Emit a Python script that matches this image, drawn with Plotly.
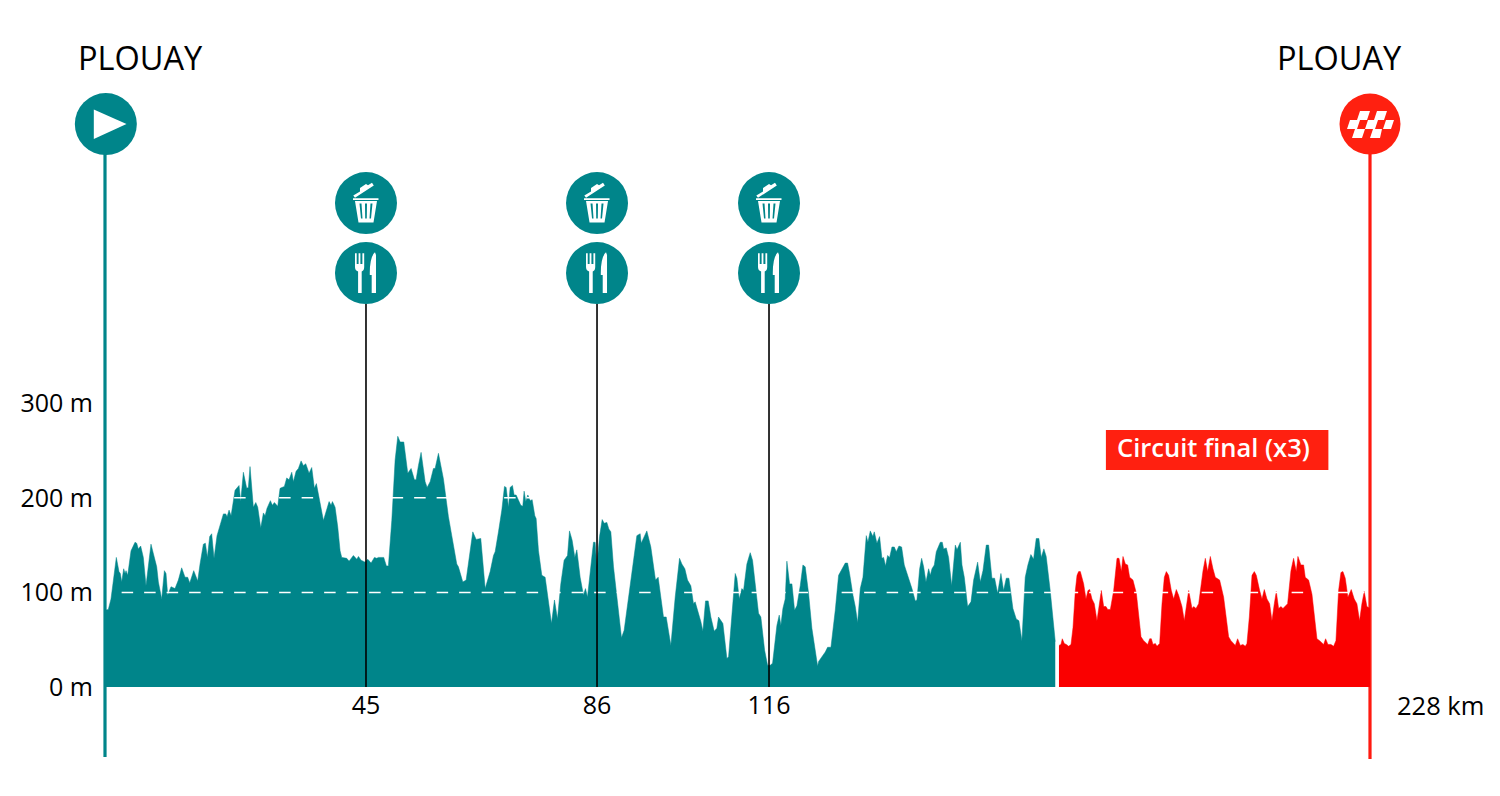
import plotly.graph_objects as go

km_teal = [0,0.60,1.08,1.50,2.04,2.52,2.76,3.01,3.37,3.61,3.79,4.09,4.69,5.41,5.71,6.01,6.43,6.91,7.39,8.29,9.32,9.62,10.22,10.70,11.00,11.30,11.90,12.62,13.22,13.82,14.42,14.90,15.27,15.99,16.71,17.13,17.73,18.09,18.45,18.87,19.23,19.65,20.19,21.34,21.76,22.00,22.36,22.72,23.44,24.16,24.46,24.94,25.54,25.84,26.14,26.74,27.17,27.53,28.07,28.55,28.85,29.21,29.81,30.17,30.53,31.13,31.55,32.33,32.75,33.17,33.66,33.96,34.44,34.86,35.34,35.76,36.18,36.78,37.26,37.74,38.10,39.37,39.97,40.39,40.75,40.99,41.47,41.95,42.37,42.67,43.57,43.99,44.77,45.38,45.68,46.16,46.88,47.36,47.96,48.56,48.98,49.28,50.24,50.72,51.08,51.69,52.29,52.77,53.19,53.85,54.57,55.17,55.77,56.07,56.49,56.97,57.70,58.06,
58.60,59.20,59.50,60.10,61.00,61.90,62.50,63.40,63.70,64.49,65.09,65.69,66.29,66.89,67.73,68.52,69.42,70.02,70.32,70.92,71.52,72.00,72.30,72.72,73.02,73.44,73.74,74.10,74.94,75.30,75.54,75.84,76.21,76.63,76.99,77.47,77.71,78.13,78.73,79.33,79.93,80.47,81.01,81.55,82.15,82.75,83.36,83.72,84.20,84.68,85.04,85.64,86.24,86.60,86.96,87.44,88.04,88.34,88.64,89.13,89.61,89.97,90.45,90.81,91.17,91.65,92.25,93.09,93.57,94.35,94.89,95.38,95.86,96.46,96.64,97.06,97.66,98.38,98.86,99.22,99.70,100.18,100.66,101.15,101.99,102.77,103.55,103.97,104.51,104.99,105.59,106.07,106.37,107.40,107.76,108.24,108.72,109.20,109.80,110.28,110.58,111.37,112.09,112.39,112.99,113.59,113.89,114.31,114.79,115.09,115.69,116.29,116.71,117.19,117.79,118.21,118.88,119.42,
119.90,120.32,120.80,121.10,121.52,121.82,122.18,122.60,122.90,123.39,123.81,124.29,124.71,125.31,125.79,126.21,126.81,127.41,128.44,128.62,129.82,130.24,130.84,131.62,132.22,132.82,133.42,133.84,134.20,134.81,135.23,135.65,136.13,136.61,137.21,137.51,137.93,138.41,138.65,139.13,139.61,140.03,140.33,140.69,141.05,141.42,141.84,142.26,142.62,143.10,143.58,144.06,144.84,145.44,146.04,146.34,146.83,147.19,147.55,147.97,148.45,148.75,149.05,149.47,149.83,150.55,150.91,151.15,151.63,152.05,152.60,153.26,153.56,154.16,154.46,154.88,155.48,156.08,156.56,157.28,157.76,158.24,158.84,159.26,159.86,160.34,160.88,161.48,161.96,162.44,162.92,163.64,164.24,164.72,165.26,165.86,166.34,166.88,167.36,167.84,168.32,168.74,169.22,169.64,170.36,170.97,171.27]
elev_teal = [81,82,93,113,137,122,120,111,125,120,123,118,144,153,152,146,149,137,107,151,127,111,93,123,120,97,106,104,113,126,116,116,110,123,112,130,151,152,137,159,162,136,160,183,183,180,187,181,208,213,196,227,210,211,233,190,195,190,168,184,181,189,197,192,195,191,210,212,221,219,227,217,228,231,239,234,236,226,232,210,215,176,189,196,192,196,190,169,144,137,136,133,139,135,138,134,132,135,131,137,136,137,137,128,128,176,240,265,259,259,226,231,219,219,234,248,217,211,
217,231,231,247,220,180,160,130,127,111,113,139,164,156,157,104,122,139,143,164,187,212,211,190,211,213,203,203,192,191,207,196,203,197,198,181,178,144,118,116,90,67,92,72,109,134,139,165,155,137,145,116,97,104,95,123,153,153,127,159,177,173,174,167,164,127,95,52,60,92,116,139,160,162,152,158,165,148,125,113,116,93,74,74,44,95,136,130,125,113,107,88,90,69,59,91,91,74,59,62,74,67,30,32,81,120,115,93,104,102,130,142,134,109,78,74,39,23,
23,25,46,65,76,65,83,93,133,109,109,81,86,107,129,127,99,62,22,27,37,42,42,81,118,125,131,131,120,97,85,68,104,116,160,153,165,159,164,152,159,136,137,128,139,137,148,148,143,149,148,129,116,104,91,92,125,136,127,111,125,118,125,129,143,153,153,146,147,137,107,150,145,153,129,116,85,90,113,132,111,123,150,150,115,115,99,120,102,115,115,83,72,70,49,116,129,140,135,157,157,137,146,138,102,60,48]

km_red = [171.94,172.30,172.54,172.90,173.27,173.69,174.11,174.47,174.89,175.19,175.49,175.79,176.39,176.81,177.17,177.47,177.89,178.31,178.79,179.21,179.57,180.00,180.42,180.72,181.20,181.80,182.40,182.76,183.18,183.48,183.90,184.32,184.68,185.28,185.89,186.73,187.21,187.93,188.29,188.59,188.89,189.31,189.61,190.09,190.51,190.93,191.29,191.71,192.19,192.61,193.09,193.51,194.11,194.53,194.90,195.32,195.92,196.22,196.64,197.12,197.90,198.32,198.74,199.22,199.70,200.12,200.90,201.62,202.52,202.94,203.72,204.14,204.62,205.10,205.52,205.82,206.25,206.73,207.15,207.51,208.11,208.53,208.95,209.43,209.91,210.33,210.75,211.11,211.53,211.95,212.31,212.73,213.15,213.75,214.23,214.71,215.01,215.55,216.03,216.33,216.94,217.54,218.44,218.92,219.64,220.00,220.42,220.96,221.44,221.86,222.34,222.76,223.12,223.54,224.02,224.62,225.16,225.64,226.12,226.54,226.96,227.44,227.92,228]
elev_red = [44,45,51,46,45,43,45,63,102,118,122,122,109,93,102,103,93,88,70,89,102,85,85,82,82,102,136,136,122,138,130,129,116,113,99,53,49,45,51,51,45,46,43,46,88,116,122,118,102,93,103,97,85,70,88,102,83,85,83,88,123,136,122,138,125,116,113,95,53,49,44,51,44,45,43,46,74,118,122,118,102,93,103,93,88,70,88,101,83,85,83,85,88,123,136,122,138,129,129,116,113,98,51,49,45,51,45,45,43,49,102,121,122,115,95,103,93,88,70,88,101,85,83,83]

elev_ticks = [0, 100, 200, 300]
elev_labels = ["0 m", "100 m", "200 m", "300 m"]
feed_pos = [47.04, 88.68, 119.68]
feed_labels = ["45", "86", "116"]
place_start = "PLOUAY"
place_end = "PLOUAY"
total_label = "228 km"
circuit_label = "Circuit final (x3)"

TEAL = "#00858a"
RED_FILL = "#fa0000"
RED_MARK = "#ff2010"
RED_LINE = "#ff1a10"

fig = go.Figure()
fig.add_trace(go.Scatter(x=km_teal, y=elev_teal, mode="lines", fill="tozeroy",
                         fillcolor=TEAL, line=dict(width=0.5, color=TEAL), hoverinfo="skip"))
fig.add_trace(go.Scatter(x=km_red, y=elev_red, mode="lines", fill="tozeroy",
                         fillcolor=RED_FILL, line=dict(width=0.5, color=RED_FILL), hoverinfo="skip"))

for level in (100, 200):
    fig.add_trace(go.Scatter(x=[3.0, 227.0], y=[level, level], mode="lines",
                             line=dict(color="white", width=1.5, dash="11.5px,11px"), hoverinfo="skip"))

for p in feed_pos:
    fig.add_trace(go.Scatter(x=[p, p], y=[0, 405], mode="lines",
                             line=dict(color="black", width=1.6), hoverinfo="skip"))

fig.add_trace(go.Scatter(x=[0.15] + feed_pos + feed_pos,
                         y=[595, 511.6, 511.6, 511.6, 437.6, 437.6, 437.6],
                         mode="markers", cliponaxis=False,
                         marker=dict(size=62, color=TEAL, line=dict(width=0)), hoverinfo="skip"))
fig.add_trace(go.Scatter(x=[228], y=[595], mode="markers", cliponaxis=False,
                         marker=dict(size=61, color=RED_MARK, line=dict(width=0)), hoverinfo="skip"))


def icon(path, x, y, color="white", xref="x"):
    return dict(type="path", path=path, xref=xref, yref="y", xsizemode="pixel", ysizemode="pixel",
                xanchor=x, yanchor=y, fillcolor=color, line=dict(width=0), layer="above")


PLAY = "M-12.7,14.7 L20,0 L-12.7,-15 Z"
TRASH = ("M-13,4.7 L12.5,4.7 L12.5,3 L-13,3 Z "
         "M-11,2 L11,2 L7.5,-19.5 L-7.5,-19.5 Z "
         "M-12.7,7.5 L-11,5.3 L7.8,17.5 L6,20.3 L2,17.8 L0,19 L-6,15 L-6,11.5 Z")
TRASH_SLOTS = ("M-6.5,-0.5 L-4.5,-0.5 L-3.5,-15.5 L-5,-15.5 Z "
               "M-1,-0.5 L1,-0.5 L0.8,-15.5 L-0.8,-15.5 Z "
               "M4.5,-0.5 L6.5,-0.5 L5,-15.5 L3.5,-15.5 Z")
FORK = ("M-11,19.7 L-9.3,19.7 L-9.3,9 L-7.4,9 L-7.4,19.7 L-5.6,19.7 L-5.6,9 L-3.6,9 L-3.6,19.7 L-1.8,19.7 "
        "L-1.8,6 Q-1.8,2.5 -4.3,1.5 L-4.3,-20 L-7.9,-20 L-7.9,1.5 Q-11,2.5 -11,6 Z")
KNIFE = "M9,20.7 Q3.5,16 3.8,-2 L5.7,-2 L5.7,-20 L10,-20 L10,18 Z"
CHECK = ("M-13,4 L-3,4 L0,13 L-10,13 Z M4,4 L14,4 L17,13 L7,13 Z "
         "M-23,-5 L-13,-5 L-10,4 L-20,4 Z M-5,-5 L5,-5 L8,4 L-2,4 Z M13,-5 L21,-5 L24,4 L16,4 Z "
         "M-18,-14 L-8,-14 L-5,-5 L-15,-5 Z M0,-14 L10,-14 L12,-5 L3,-5 Z")

# Start / finish poles run below the axis, so they are placed on the paper.
shapes = [
    dict(type="line", xref="paper", yref="paper", x0=0, x1=0, y0=-70 / 687, y1=535 / 687,
         line=dict(color=TEAL, width=3.2), layer="below"),
    dict(type="line", xref="paper", yref="paper", x0=1, x1=1, y0=-72 / 687, y1=535 / 687,
         line=dict(color=RED_LINE, width=3.2), layer="below"),
    dict(type="rect", xref="x", yref="y", x0=180.4, x1=220.5, y0=229.4, y1=271.7,
         fillcolor=RED_MARK, line=dict(width=0), layer="above"),
    icon(PLAY, 0.00119, 595, xref="paper"),
    icon(CHECK, 1, 595, xref="paper"),
]
for p in feed_pos:
    shapes.append(icon(TRASH, p, 511.6))
    shapes.append(icon(TRASH_SLOTS, p, 511.6, TEAL))
    shapes.append(icon(FORK, p, 437.6))
    shapes.append(icon(KNIFE, p, 437.6))

FONT = "Open Sans"
annotations = [
    dict(x=6.4, y=664.9, text=place_start, showarrow=False, xanchor="center", yanchor="middle",
         font=dict(family=FONT, size=32.5, color="black")),
    dict(x=222.5, y=664.9, text=place_end, showarrow=False, xanchor="center", yanchor="middle",
         font=dict(family=FONT, size=32.5, color="black")),
    dict(x=228, y=0, text=total_label, showarrow=False, xanchor="left", yanchor="top", xshift=25, yshift=1,
         font=dict(family=FONT, size=25.5, color="black")),
    dict(x=199.8, y=253.7, text=circuit_label, showarrow=False, xanchor="center", yanchor="middle",
         font=dict(family=FONT, size=25.5, color="white", weight=600)),
]

fig.update_layout(
    width=1500, height=796, margin=dict(l=105, r=130, t=0, b=109, pad=0),
    paper_bgcolor="white", plot_bgcolor="white", showlegend=False, hovermode=False,
    shapes=shapes, annotations=annotations,
    font=dict(family=FONT, color="black"),
    xaxis=dict(range=[0, 228], tickmode="array", tickvals=feed_pos, ticktext=feed_labels,
               ticks="", ticklen=0, ticklabelstandoff=1, showgrid=False, zeroline=False,
               showline=False, tickfont=dict(family=FONT, size=25, color="black")),
    yaxis=dict(range=[0, 726.2], tickmode="array", tickvals=elev_ticks, ticktext=elev_labels,
               ticks="outside", ticklen=6, tickcolor="rgba(0,0,0,0)", showgrid=False, zeroline=False,
               showline=False, tickfont=dict(family=FONT, size=25, color="black")),
)

fig.write_html("out.html", config={"displayModeBar": False},
               post_script="document.body.style.margin='0';document.body.style.overflow='hidden';")
